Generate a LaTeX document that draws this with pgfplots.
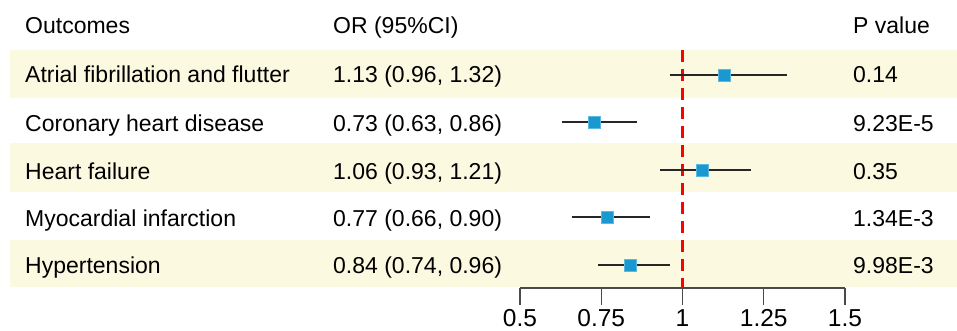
\documentclass[border=0pt]{standalone}
\usepackage{pgfplots}
\usepackage{pgfplotstable}
\pgfplotsset{compat=1.18}
\usepackage{fontspec}
\setmainfont{Liberation Sans}
\definecolor{band}{HTML}{FCF9E1}
\definecolor{sq}{HTML}{1A98D0}
\definecolor{sqedge}{HTML}{5BB9E2}
\definecolor{axisgray}{HTML}{4A4A4A}
\pgfplotstableread{
y    or    lo    hi
75   1.13  0.96  1.32
122  0.73  0.63  0.86
170  1.06  0.93  1.21
217  0.77  0.66  0.90
265  0.84  0.74  0.96
}\ordata
\begin{document}
\begin{tikzpicture}
\path[use as bounding box] (0,0) rectangle (957bp,-331bp);
\begin{axis}[
  at={(0,0)}, anchor=north west,
  scale only axis, width=957bp, height=331bp,
  xmin=-1.1, xmax=1.844615, ymin=0, ymax=331, y dir=reverse,
  hide axis, clip=false]
  % shaded bands
  \fill[band] (axis cs:{-1.1+10/325},50) rectangle (axis cs:1.844615,98);
  \fill[band] (axis cs:{-1.1+10/325},143) rectangle (axis cs:1.844615,192);
  \fill[band] (axis cs:{-1.1+10/325},240) rectangle (axis cs:1.844615,287);
  % reference line
  \addplot[red, line width=2.2bp, dash pattern=on 12bp off 7bp] coordinates {(1,50) (1,288)};
  % CIs
  \addplot[draw=none, mark=none,
    error bars/.cd, x dir=both, x explicit, error mark=none,
    error bar style={line width=2.2bp, color=black!85}]
    table[x=or, y=y, x error minus expr=\thisrow{or}-\thisrow{lo}, x error plus expr=\thisrow{hi}-\thisrow{or}] {\ordata};
  % point estimates
  \addplot[only marks, mark=square*, mark size=6bp,
    mark options={fill=sq, draw=sqedge, line width=0.6bp}]
    table[x=or, y=y] {\ordata};
\end{axis}
% texts
\begin{scope}[every node/.style={anchor=base west, inner sep=0pt, font=\fontsize{23bp}{27bp}\selectfont}]
\node at (25bp,-33.3bp) {Outcomes};
\node at (333bp,-33.3bp) {OR (95\%CI)};
\node at (853bp,-33.3bp) {P value};
\node at (25bp,-82.7bp) {Atrial fibrillation and flutter};
\node at (25bp,-131.5bp) {Coronary heart disease};
\node at (25bp,-179.5bp) {Heart failure};
\node at (25bp,-226.7bp) {Myocardial infarction};
\node at (25bp,-273.5bp) {Hypertension};
\node at (333bp,-82.7bp) {1.13 (0.96, 1.32)};
\node at (333bp,-131.5bp) {0.73 (0.63, 0.86)};
\node at (333bp,-179.5bp) {1.06 (0.93, 1.21)};
\node at (333bp,-226.7bp) {0.77 (0.66, 0.90)};
\node at (333bp,-273.5bp) {0.84 (0.74, 0.96)};
\node at (853bp,-82.7bp) {0.14};
\node at (853bp,-131.5bp) {9.23E-5};
\node at (853bp,-179.5bp) {0.35};
\node at (853bp,-226.7bp) {1.34E-3};
\node at (853bp,-273.5bp) {9.98E-3};
\end{scope}
% bottom axis
\begin{axis}[
  at={(520bp,-288bp)}, anchor=south west,
  scale only axis, width=325bp, height=10bp,
  xmin=0.5, xmax=1.5, ymin=0, ymax=1,
  axis x line*=bottom, hide y axis,
  xtick={0.5,0.75,1,1.25,1.5},
  xticklabels={0.5,0.75,1,1.25,1.5},
  xtick align=outside, major tick length=17bp,
  axis line style={axisgray, line width=1.4bp},
  every tick/.style={axisgray, line width=1.4bp},
  tick label style={font=\fontsize{24.5bp}{28bp}\selectfont, inner sep=0pt, yshift=-4bp},
  /pgf/number format/assume math mode=true]
  \addplot[draw=none] coordinates {(0.5,0) (1.5,0)};
\end{axis}
\end{tikzpicture}
\end{document}
